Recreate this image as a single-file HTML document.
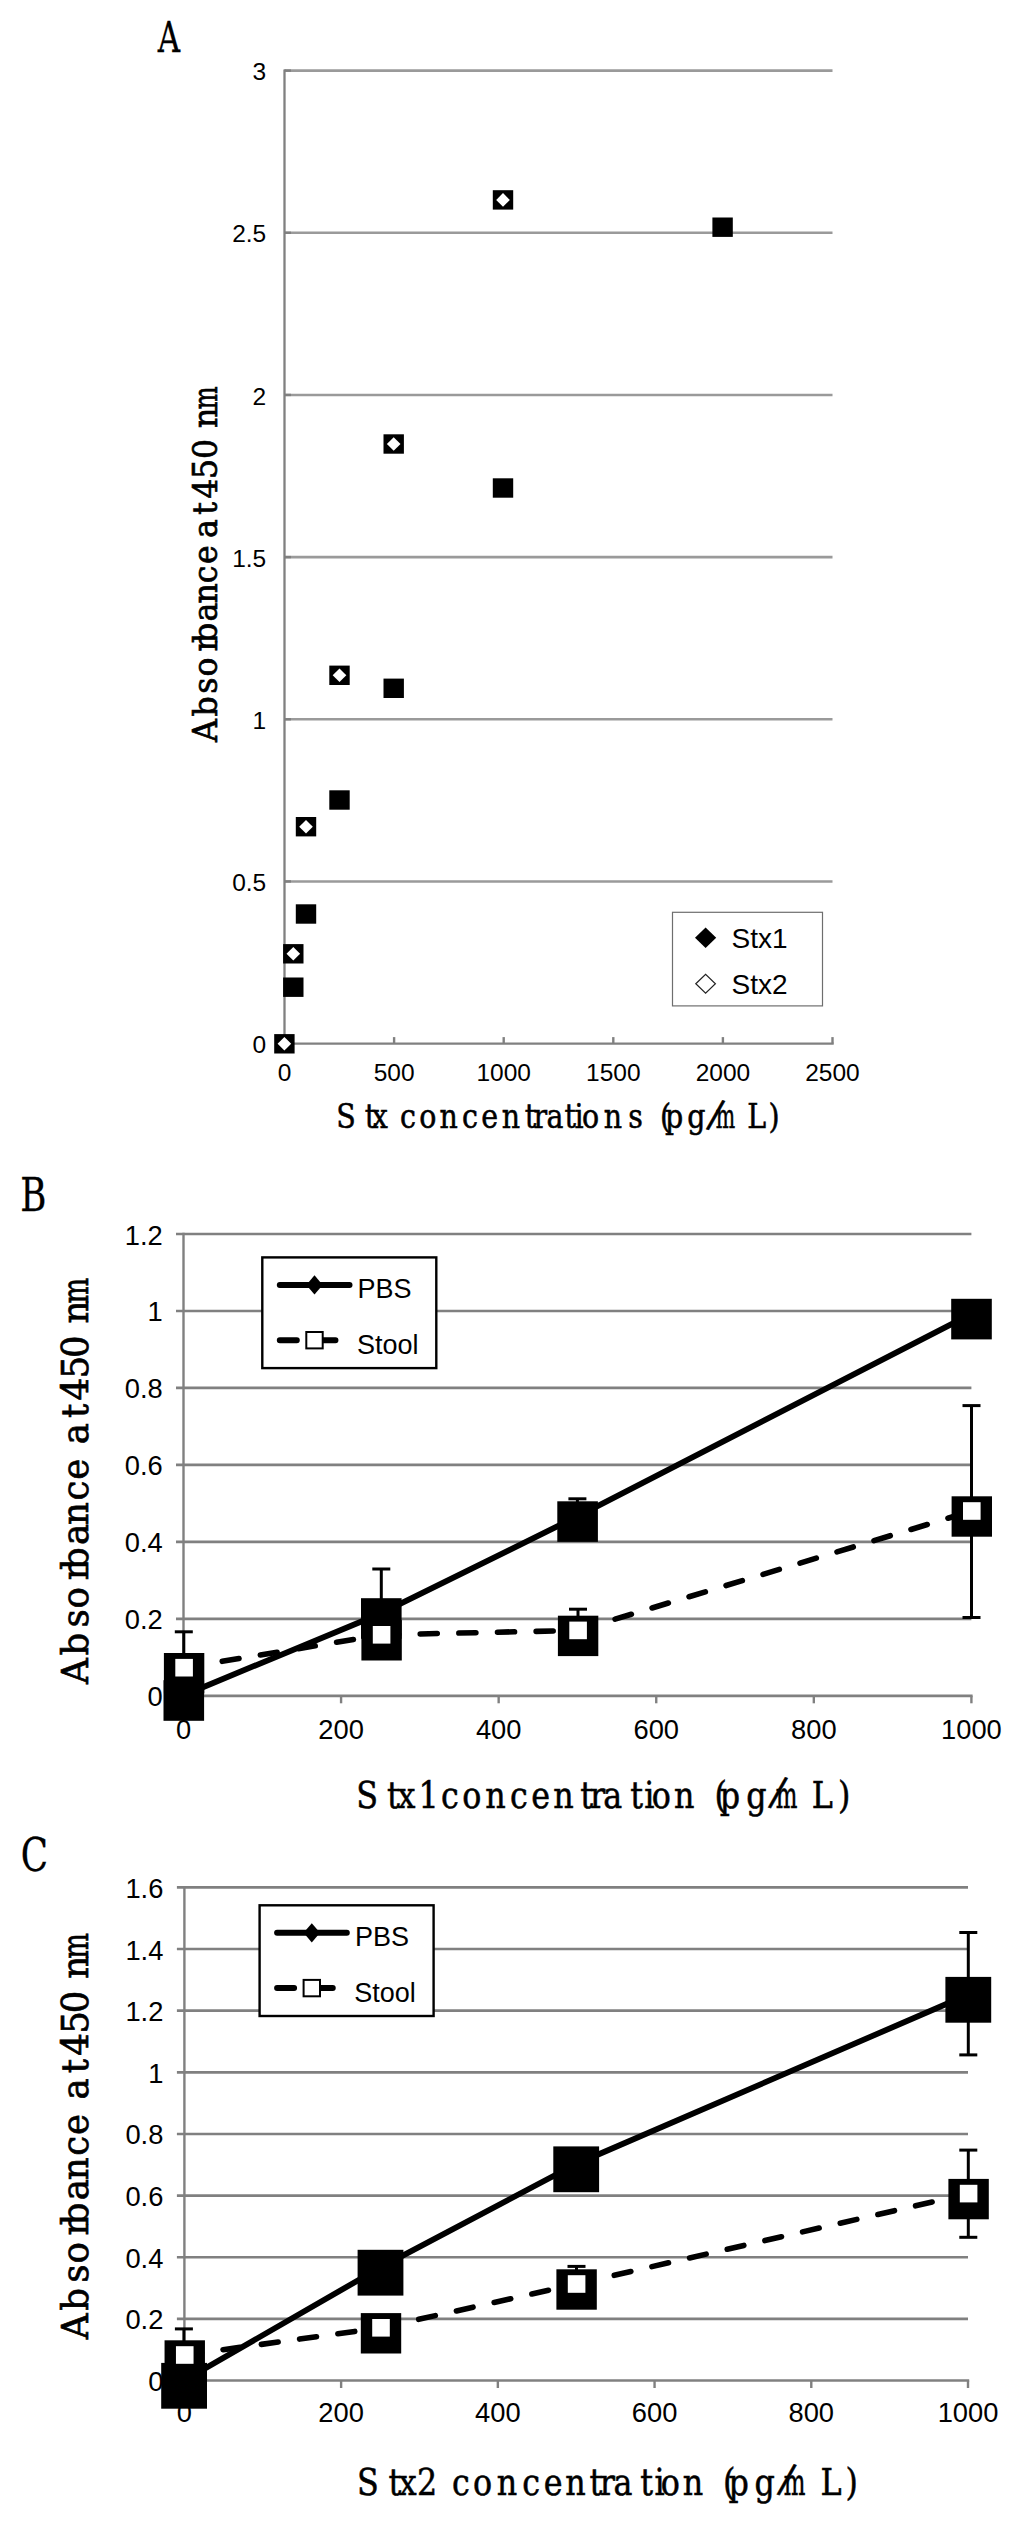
<!DOCTYPE html>
<html lang="en"><head><meta charset="utf-8"><title>Figure</title>
<style>
html,body{margin:0;padding:0;background:#fff;}
svg{display:block;}
text{fill:#000;}
</style></head><body>
<svg width="1024" height="2522" viewBox="0 0 1024 2522">
<rect x="0" y="0" width="1024" height="2522" fill="#fff"/>
<line x1="284.50" y1="881.43" x2="832.50" y2="881.43" stroke="#9a9a9a" stroke-width="2.6" />
<line x1="284.50" y1="719.27" x2="832.50" y2="719.27" stroke="#9a9a9a" stroke-width="2.6" />
<line x1="284.50" y1="557.10" x2="832.50" y2="557.10" stroke="#9a9a9a" stroke-width="2.6" />
<line x1="284.50" y1="394.93" x2="832.50" y2="394.93" stroke="#9a9a9a" stroke-width="2.6" />
<line x1="284.50" y1="232.77" x2="832.50" y2="232.77" stroke="#9a9a9a" stroke-width="2.6" />
<line x1="284.50" y1="70.60" x2="832.50" y2="70.60" stroke="#9a9a9a" stroke-width="2.6" />
<line x1="284.50" y1="69.40" x2="284.50" y2="1044.80" stroke="#808080" stroke-width="2.3" />
<line x1="284.50" y1="1043.60" x2="833.70" y2="1043.60" stroke="#808080" stroke-width="2.3" />
<line x1="284.50" y1="1043.60" x2="291.00" y2="1043.60" stroke="#808080" stroke-width="2.4" />
<line x1="284.50" y1="881.43" x2="291.00" y2="881.43" stroke="#808080" stroke-width="2.4" />
<line x1="284.50" y1="719.27" x2="291.00" y2="719.27" stroke="#808080" stroke-width="2.4" />
<line x1="284.50" y1="557.10" x2="291.00" y2="557.10" stroke="#808080" stroke-width="2.4" />
<line x1="284.50" y1="394.93" x2="291.00" y2="394.93" stroke="#808080" stroke-width="2.4" />
<line x1="284.50" y1="232.77" x2="291.00" y2="232.77" stroke="#808080" stroke-width="2.4" />
<line x1="284.50" y1="70.60" x2="291.00" y2="70.60" stroke="#808080" stroke-width="2.4" />
<line x1="394.10" y1="1043.60" x2="394.10" y2="1037.10" stroke="#808080" stroke-width="2.4" />
<line x1="503.70" y1="1043.60" x2="503.70" y2="1037.10" stroke="#808080" stroke-width="2.4" />
<line x1="613.30" y1="1043.60" x2="613.30" y2="1037.10" stroke="#808080" stroke-width="2.4" />
<line x1="722.90" y1="1043.60" x2="722.90" y2="1037.10" stroke="#808080" stroke-width="2.4" />
<line x1="832.50" y1="1043.60" x2="832.50" y2="1037.10" stroke="#808080" stroke-width="2.4" />
<text x="266.20" y="1053.20" font-size="24.5" text-anchor="end" font-family='"Liberation Sans", Arial, sans-serif' >0</text>
<text x="266.20" y="891.03" font-size="24.5" text-anchor="end" font-family='"Liberation Sans", Arial, sans-serif' >0.5</text>
<text x="266.20" y="728.87" font-size="24.5" text-anchor="end" font-family='"Liberation Sans", Arial, sans-serif' >1</text>
<text x="266.20" y="566.70" font-size="24.5" text-anchor="end" font-family='"Liberation Sans", Arial, sans-serif' >1.5</text>
<text x="266.20" y="404.53" font-size="24.5" text-anchor="end" font-family='"Liberation Sans", Arial, sans-serif' >2</text>
<text x="266.20" y="242.37" font-size="24.5" text-anchor="end" font-family='"Liberation Sans", Arial, sans-serif' >2.5</text>
<text x="266.20" y="80.20" font-size="24.5" text-anchor="end" font-family='"Liberation Sans", Arial, sans-serif' >3</text>
<text x="284.50" y="1081.20" font-size="24.5" text-anchor="middle" font-family='"Liberation Sans", Arial, sans-serif' >0</text>
<text x="394.10" y="1081.20" font-size="24.5" text-anchor="middle" font-family='"Liberation Sans", Arial, sans-serif' >500</text>
<text x="503.70" y="1081.20" font-size="24.5" text-anchor="middle" font-family='"Liberation Sans", Arial, sans-serif' >1000</text>
<text x="613.30" y="1081.20" font-size="24.5" text-anchor="middle" font-family='"Liberation Sans", Arial, sans-serif' >1500</text>
<text x="722.90" y="1081.20" font-size="24.5" text-anchor="middle" font-family='"Liberation Sans", Arial, sans-serif' >2000</text>
<text x="832.50" y="1081.20" font-size="24.5" text-anchor="middle" font-family='"Liberation Sans", Arial, sans-serif' >2500</text>
<rect x="283.10" y="977.50" width="20.40" height="19.40" fill="#000" />
<rect x="295.80" y="904.30" width="20.40" height="19.40" fill="#000" />
<rect x="329.30" y="790.30" width="20.40" height="19.40" fill="#000" />
<rect x="383.50" y="678.60" width="20.40" height="19.40" fill="#000" />
<rect x="492.80" y="478.30" width="20.40" height="19.40" fill="#000" />
<rect x="712.40" y="217.50" width="20.40" height="19.40" fill="#000" />
<rect x="274.20" y="1034.10" width="20.40" height="19.40" fill="#000" />
<path d="M277.60 1043.80 L284.40 1037.00 L291.20 1043.80 L284.40 1050.60Z" fill="#fff"/>
<rect x="283.10" y="944.10" width="20.40" height="19.40" fill="#000" />
<path d="M286.50 953.80 L293.30 947.00 L300.10 953.80 L293.30 960.60Z" fill="#fff"/>
<rect x="295.80" y="817.00" width="20.40" height="19.40" fill="#000" />
<path d="M299.20 826.70 L306.00 819.90 L312.80 826.70 L306.00 833.50Z" fill="#fff"/>
<rect x="329.30" y="665.60" width="20.40" height="19.40" fill="#000" />
<path d="M332.70 675.30 L339.50 668.50 L346.30 675.30 L339.50 682.10Z" fill="#fff"/>
<rect x="383.50" y="434.30" width="20.40" height="19.40" fill="#000" />
<path d="M386.90 444.00 L393.70 437.20 L400.50 444.00 L393.70 450.80Z" fill="#fff"/>
<rect x="492.80" y="190.20" width="20.40" height="19.40" fill="#000" />
<path d="M496.20 199.90 L503.00 193.10 L509.80 199.90 L503.00 206.70Z" fill="#fff"/>
<rect x="672.5" y="912.3" width="150" height="93.6" fill="#fff" stroke="#6e6e6e" stroke-width="1.2"/>
<path d="M695.00 937.80 L705.60 927.60 L716.20 937.80 L705.60 948.00Z" fill="#000" />
<path d="M695.80 983.80 L705.60 974.40 L715.40 983.80 L705.60 993.20Z" fill="#fff" stroke="#222" stroke-width="1.2"/>
<text x="731.50" y="947.80" font-size="28" text-anchor="start" font-family='"Liberation Sans", Arial, sans-serif' >Stx1</text>
<text x="731.50" y="994.20" font-size="28" text-anchor="start" font-family='"Liberation Sans", Arial, sans-serif' >Stx2</text>
<text transform="scale(0.72,1)"  x="234.72" y="52.30" font-size="43" text-anchor="middle" font-family='"DejaVu Serif", "Liberation Serif", serif' stroke="#000" stroke-width="0.3">A</text>
<text transform="scale(0.855,1)" rotate="0 0 0 0 0 0 0 0 0 0 0 0 0 0 0 0 0 0 0 0 0 0 16 0 0 0" x="404.68 433.33 444.09 444.09 477.19 500.35 524.80 549.71 572.63 597.66 620.35 631.93 649.12 667.02 677.19 690.64 716.73 743.27 743.27 778.36 788.54 814.39 833.68 848.65 885.03 905.26" y="1127.60" font-size="33.3" text-anchor="middle" font-family='"DejaVu Serif", "Liberation Serif", serif' stroke="#000" stroke-width="0.55">Stx concentrations (pg<tspan font-size="40.0" dy="-2.2">/</tspan><tspan dy="2.2" textLength="22.73" lengthAdjust="spacingAndGlyphs">m</tspan>L)</text>
<text transform="rotate(-90) scale(0.95,1)"  x="-769.16 -743.68 -721.68 -702.21 -677.89 -666.32 -644.21 -624.42 -604.63 -583.79 -583.79 -556.42 -535.26 -535.26 -514.42 -493.58 -472.63 -472.63 -439.89 -418.74" y="217.20" font-size="33.3" text-anchor="middle" font-family='"DejaVu Serif", "Liberation Serif", serif' stroke="#000" stroke-width="0.7">Absorbance at 450 n<tspan textLength="23.99" lengthAdjust="spacingAndGlyphs">m</tspan></text>
<line x1="176.00" y1="1618.83" x2="971.40" y2="1618.83" stroke="#808080" stroke-width="2.65" />
<line x1="176.00" y1="1541.87" x2="971.40" y2="1541.87" stroke="#808080" stroke-width="2.65" />
<line x1="176.00" y1="1464.90" x2="971.40" y2="1464.90" stroke="#808080" stroke-width="2.65" />
<line x1="176.00" y1="1387.93" x2="971.40" y2="1387.93" stroke="#808080" stroke-width="2.65" />
<line x1="176.00" y1="1310.97" x2="971.40" y2="1310.97" stroke="#808080" stroke-width="2.65" />
<line x1="176.00" y1="1234.00" x2="971.40" y2="1234.00" stroke="#808080" stroke-width="2.65" />
<line x1="176.00" y1="1695.80" x2="972.60" y2="1695.80" stroke="#808080" stroke-width="2.65" />
<line x1="183.50" y1="1232.80" x2="183.50" y2="1697.00" stroke="#808080" stroke-width="2.4" />
<line x1="341.08" y1="1695.80" x2="341.08" y2="1703.30" stroke="#808080" stroke-width="2.4" />
<line x1="498.66" y1="1695.80" x2="498.66" y2="1703.30" stroke="#808080" stroke-width="2.4" />
<line x1="656.24" y1="1695.80" x2="656.24" y2="1703.30" stroke="#808080" stroke-width="2.4" />
<line x1="813.82" y1="1695.80" x2="813.82" y2="1703.30" stroke="#808080" stroke-width="2.4" />
<line x1="971.40" y1="1695.80" x2="971.40" y2="1703.30" stroke="#808080" stroke-width="2.4" />
<text transform="translate(162.70,1706.30) scale(0.965,1)" font-size="28.3" text-anchor="end" font-family='"Liberation Sans", Arial, sans-serif'>0</text>
<text transform="translate(162.70,1629.33) scale(0.965,1)" font-size="28.3" text-anchor="end" font-family='"Liberation Sans", Arial, sans-serif'>0.2</text>
<text transform="translate(162.70,1552.37) scale(0.965,1)" font-size="28.3" text-anchor="end" font-family='"Liberation Sans", Arial, sans-serif'>0.4</text>
<text transform="translate(162.70,1475.40) scale(0.965,1)" font-size="28.3" text-anchor="end" font-family='"Liberation Sans", Arial, sans-serif'>0.6</text>
<text transform="translate(162.70,1398.43) scale(0.965,1)" font-size="28.3" text-anchor="end" font-family='"Liberation Sans", Arial, sans-serif'>0.8</text>
<text transform="translate(162.70,1321.47) scale(0.965,1)" font-size="28.3" text-anchor="end" font-family='"Liberation Sans", Arial, sans-serif'>1</text>
<text transform="translate(162.70,1244.50) scale(0.965,1)" font-size="28.3" text-anchor="end" font-family='"Liberation Sans", Arial, sans-serif'>1.2</text>
<text transform="translate(183.50,1738.50) scale(0.965,1)" font-size="28.3" text-anchor="middle" font-family='"Liberation Sans", Arial, sans-serif'>0</text>
<text transform="translate(341.08,1738.50) scale(0.965,1)" font-size="28.3" text-anchor="middle" font-family='"Liberation Sans", Arial, sans-serif'>200</text>
<text transform="translate(498.66,1738.50) scale(0.965,1)" font-size="28.3" text-anchor="middle" font-family='"Liberation Sans", Arial, sans-serif'>400</text>
<text transform="translate(656.24,1738.50) scale(0.965,1)" font-size="28.3" text-anchor="middle" font-family='"Liberation Sans", Arial, sans-serif'>600</text>
<text transform="translate(813.82,1738.50) scale(0.965,1)" font-size="28.3" text-anchor="middle" font-family='"Liberation Sans", Arial, sans-serif'>800</text>
<text transform="translate(971.40,1738.50) scale(0.965,1)" font-size="28.3" text-anchor="middle" font-family='"Liberation Sans", Arial, sans-serif'>1000</text>
<rect x="262.3" y="1257.4" width="174" height="110.7" fill="#fff" stroke="#000" stroke-width="2.4"/>
<line x1="279.80" y1="1284.90" x2="349.50" y2="1284.90" stroke="#000" stroke-width="6" stroke-linecap="round"/>
<path d="M306.30 1284.90 L314.50 1275.30 L322.70 1284.90 L314.50 1294.50Z" fill="#000" />
<line x1="279.80" y1="1340.20" x2="349.50" y2="1340.20" stroke="#000" stroke-width="6" stroke-linecap="round" stroke-dasharray="17 21.65"/>
<rect x="306.30" y="1332.00" width="16.4" height="16.4" fill="#fff" stroke="#000" stroke-width="2"/>
<text x="357.60" y="1298.20" font-size="27" text-anchor="start" font-family='"Liberation Sans", Arial, sans-serif' >PBS</text>
<text x="356.90" y="1353.70" font-size="27" text-anchor="start" font-family='"Liberation Sans", Arial, sans-serif' >Stool</text>
<polyline points="183.80,1695.20 381.30,1613.20 577.60,1516.30 971.50,1313.80" fill="none" stroke="#000" stroke-width="5.8" stroke-linejoin="round"/>
<line x1="184.10" y1="1667.70" x2="381.60" y2="1634.80" stroke="#000" stroke-width="5.6" stroke-linecap="round" stroke-dasharray="17 21.65"/>
<line x1="381.60" y1="1634.80" x2="578.10" y2="1630.40" stroke="#000" stroke-width="5.6" stroke-linecap="round" stroke-dasharray="17 21.65"/>
<line x1="578.10" y1="1630.40" x2="971.80" y2="1511.00" stroke="#000" stroke-width="5.6" stroke-linecap="round" stroke-dasharray="17 21.65"/>
<line x1="183.80" y1="1631.80" x2="183.80" y2="1660.00" stroke="#000" stroke-width="3" />
<line x1="174.80" y1="1631.80" x2="192.80" y2="1631.80" stroke="#000" stroke-width="3" />
<line x1="381.30" y1="1569.00" x2="381.30" y2="1600.00" stroke="#000" stroke-width="3" />
<line x1="372.30" y1="1569.00" x2="390.30" y2="1569.00" stroke="#000" stroke-width="3" />
<line x1="577.40" y1="1498.80" x2="577.40" y2="1503.00" stroke="#000" stroke-width="3" />
<line x1="568.40" y1="1498.80" x2="586.40" y2="1498.80" stroke="#000" stroke-width="3" />
<line x1="578.00" y1="1609.20" x2="578.00" y2="1618.00" stroke="#000" stroke-width="3" />
<line x1="569.00" y1="1609.20" x2="587.00" y2="1609.20" stroke="#000" stroke-width="3" />
<line x1="971.50" y1="1405.60" x2="971.50" y2="1617.50" stroke="#000" stroke-width="3" />
<line x1="962.50" y1="1405.60" x2="980.50" y2="1405.60" stroke="#000" stroke-width="3" />
<rect x="163.50" y="1680.20" width="40.60" height="40.60" fill="#000" />
<rect x="361.00" y="1598.20" width="40.60" height="40.60" fill="#000" />
<rect x="557.30" y="1501.30" width="40.60" height="40.60" fill="#000" />
<rect x="951.20" y="1298.80" width="40.60" height="40.60" fill="#000" />
<rect x="163.90" y="1653.00" width="40.40" height="40.40" fill="#000" />
<rect x="361.40" y="1620.10" width="40.40" height="40.40" fill="#000" />
<rect x="557.90" y="1615.70" width="40.40" height="40.40" fill="#000" />
<rect x="951.60" y="1496.30" width="40.40" height="40.40" fill="#000" />
<rect x="175.30" y="1658.90" width="17.60" height="17.60" fill="#fff" />
<rect x="372.80" y="1626.00" width="17.60" height="17.60" fill="#fff" />
<rect x="569.30" y="1621.60" width="17.60" height="17.60" fill="#fff" />
<rect x="963.00" y="1502.20" width="17.60" height="17.60" fill="#fff" />
<text transform="scale(0.855,1)" rotate="0 0 0 0 0 0 0 0 0 0 0 0 0 0 0 0 0 0 0 0 0 16 0 0 0" x="429.47 460.00 475.44 501.40 526.08 551.81 579.53 607.02 632.28 659.06 686.20 699.06 716.73 744.56 759.42 773.45 800.35 800.35 842.81 853.80 884.80 906.43 920.00 961.75 987.49" y="1808.00" font-size="37.2" text-anchor="middle" font-family='"DejaVu Serif", "Liberation Serif", serif' stroke="#000" stroke-width="0.55">Stx1concentration (pg<tspan font-size="41.7" dy="-4.5">/</tspan><tspan dy="4.5" textLength="25.39" lengthAdjust="spacingAndGlyphs">m</tspan>L)</text>
<text transform="rotate(-90) scale(0.95,1)"  x="-1759.05 -1730.63 -1703.58 -1681.79 -1654.42 -1640.74 -1615.16 -1593.26 -1569.05 -1546.63 -1546.63 -1509.16 -1485.16 -1485.16 -1462.42 -1439.16 -1417.47 -1417.47 -1381.05 -1358.53" y="88.20" font-size="37.5" text-anchor="middle" font-family='"DejaVu Serif", "Liberation Serif", serif' stroke="#000" stroke-width="0.7">Absorbance at 450 n<tspan textLength="27.02" lengthAdjust="spacingAndGlyphs">m</tspan></text>
<text transform="scale(0.775,1)"  x="43.10" y="1211.50" font-size="46" text-anchor="middle" font-family='"DejaVu Serif", "Liberation Serif", serif' stroke="#000" stroke-width="0.3">B</text>
<line x1="962.50" y1="1617.50" x2="980.50" y2="1617.50" stroke="#000" stroke-width="3" />
<line x1="176.90" y1="2318.86" x2="968.00" y2="2318.86" stroke="#808080" stroke-width="2.65" />
<line x1="176.90" y1="2257.22" x2="968.00" y2="2257.22" stroke="#808080" stroke-width="2.65" />
<line x1="176.90" y1="2195.59" x2="968.00" y2="2195.59" stroke="#808080" stroke-width="2.65" />
<line x1="176.90" y1="2133.95" x2="968.00" y2="2133.95" stroke="#808080" stroke-width="2.65" />
<line x1="176.90" y1="2072.31" x2="968.00" y2="2072.31" stroke="#808080" stroke-width="2.65" />
<line x1="176.90" y1="2010.68" x2="968.00" y2="2010.68" stroke="#808080" stroke-width="2.65" />
<line x1="176.90" y1="1949.04" x2="968.00" y2="1949.04" stroke="#808080" stroke-width="2.65" />
<line x1="176.90" y1="1887.40" x2="968.00" y2="1887.40" stroke="#808080" stroke-width="2.65" />
<line x1="176.90" y1="2380.50" x2="969.20" y2="2380.50" stroke="#808080" stroke-width="2.65" />
<line x1="184.40" y1="1886.20" x2="184.40" y2="2381.70" stroke="#808080" stroke-width="2.4" />
<line x1="341.12" y1="2380.50" x2="341.12" y2="2388.00" stroke="#808080" stroke-width="2.4" />
<line x1="497.84" y1="2380.50" x2="497.84" y2="2388.00" stroke="#808080" stroke-width="2.4" />
<line x1="654.56" y1="2380.50" x2="654.56" y2="2388.00" stroke="#808080" stroke-width="2.4" />
<line x1="811.28" y1="2380.50" x2="811.28" y2="2388.00" stroke="#808080" stroke-width="2.4" />
<line x1="968.00" y1="2380.50" x2="968.00" y2="2388.00" stroke="#808080" stroke-width="2.4" />
<text transform="translate(163.40,2391.00) scale(0.965,1)" font-size="28.3" text-anchor="end" font-family='"Liberation Sans", Arial, sans-serif'>0</text>
<text transform="translate(163.40,2329.36) scale(0.965,1)" font-size="28.3" text-anchor="end" font-family='"Liberation Sans", Arial, sans-serif'>0.2</text>
<text transform="translate(163.40,2267.72) scale(0.965,1)" font-size="28.3" text-anchor="end" font-family='"Liberation Sans", Arial, sans-serif'>0.4</text>
<text transform="translate(163.40,2206.09) scale(0.965,1)" font-size="28.3" text-anchor="end" font-family='"Liberation Sans", Arial, sans-serif'>0.6</text>
<text transform="translate(163.40,2144.45) scale(0.965,1)" font-size="28.3" text-anchor="end" font-family='"Liberation Sans", Arial, sans-serif'>0.8</text>
<text transform="translate(163.40,2082.81) scale(0.965,1)" font-size="28.3" text-anchor="end" font-family='"Liberation Sans", Arial, sans-serif'>1</text>
<text transform="translate(163.40,2021.18) scale(0.965,1)" font-size="28.3" text-anchor="end" font-family='"Liberation Sans", Arial, sans-serif'>1.2</text>
<text transform="translate(163.40,1959.54) scale(0.965,1)" font-size="28.3" text-anchor="end" font-family='"Liberation Sans", Arial, sans-serif'>1.4</text>
<text transform="translate(163.40,1897.90) scale(0.965,1)" font-size="28.3" text-anchor="end" font-family='"Liberation Sans", Arial, sans-serif'>1.6</text>
<text transform="translate(184.40,2421.60) scale(0.965,1)" font-size="28.3" text-anchor="middle" font-family='"Liberation Sans", Arial, sans-serif'>0</text>
<text transform="translate(341.12,2421.60) scale(0.965,1)" font-size="28.3" text-anchor="middle" font-family='"Liberation Sans", Arial, sans-serif'>200</text>
<text transform="translate(497.84,2421.60) scale(0.965,1)" font-size="28.3" text-anchor="middle" font-family='"Liberation Sans", Arial, sans-serif'>400</text>
<text transform="translate(654.56,2421.60) scale(0.965,1)" font-size="28.3" text-anchor="middle" font-family='"Liberation Sans", Arial, sans-serif'>600</text>
<text transform="translate(811.28,2421.60) scale(0.965,1)" font-size="28.3" text-anchor="middle" font-family='"Liberation Sans", Arial, sans-serif'>800</text>
<text transform="translate(968.00,2421.60) scale(0.965,1)" font-size="28.3" text-anchor="middle" font-family='"Liberation Sans", Arial, sans-serif'>1000</text>
<rect x="259.6" y="1905.3" width="174" height="110.7" fill="#fff" stroke="#000" stroke-width="2.4"/>
<line x1="277.10" y1="1932.80" x2="346.80" y2="1932.80" stroke="#000" stroke-width="6" stroke-linecap="round"/>
<path d="M303.60 1932.80 L311.80 1923.20 L320.00 1932.80 L311.80 1942.40Z" fill="#000" />
<line x1="277.10" y1="1988.10" x2="346.80" y2="1988.10" stroke="#000" stroke-width="6" stroke-linecap="round" stroke-dasharray="17 21.65"/>
<rect x="303.60" y="1979.90" width="16.4" height="16.4" fill="#fff" stroke="#000" stroke-width="2"/>
<text x="354.90" y="1946.10" font-size="27" text-anchor="start" font-family='"Liberation Sans", Arial, sans-serif' >PBS</text>
<text x="354.20" y="2001.60" font-size="27" text-anchor="start" font-family='"Liberation Sans", Arial, sans-serif' >Stool</text>
<polyline points="184.10,2380.50 380.50,2267.40 576.20,2164.00 968.30,1994.50" fill="none" stroke="#000" stroke-width="5.8" stroke-linejoin="round"/>
<line x1="184.75" y1="2355.00" x2="381.00" y2="2327.80" stroke="#000" stroke-width="5.6" stroke-linecap="round" stroke-dasharray="17 21.65"/>
<line x1="381.00" y1="2327.80" x2="576.60" y2="2284.00" stroke="#000" stroke-width="5.6" stroke-linecap="round" stroke-dasharray="17 21.65"/>
<line x1="576.60" y1="2284.00" x2="968.60" y2="2193.60" stroke="#000" stroke-width="5.6" stroke-linecap="round" stroke-dasharray="17 21.65"/>
<line x1="183.90" y1="2328.90" x2="183.90" y2="2345.00" stroke="#000" stroke-width="3" />
<line x1="174.90" y1="2328.90" x2="192.90" y2="2328.90" stroke="#000" stroke-width="3" />
<line x1="576.50" y1="2266.40" x2="576.50" y2="2275.00" stroke="#000" stroke-width="3" />
<line x1="567.50" y1="2266.40" x2="585.50" y2="2266.40" stroke="#000" stroke-width="3" />
<line x1="968.30" y1="1932.50" x2="968.30" y2="2054.90" stroke="#000" stroke-width="3" />
<line x1="959.30" y1="1932.50" x2="977.30" y2="1932.50" stroke="#000" stroke-width="3" />
<line x1="968.30" y1="2150.10" x2="968.30" y2="2237.30" stroke="#000" stroke-width="3" />
<line x1="959.30" y1="2150.10" x2="977.30" y2="2150.10" stroke="#000" stroke-width="3" />
<rect x="161.20" y="2362.90" width="45.80" height="45.80" fill="#000" />
<rect x="357.60" y="2249.80" width="45.80" height="45.80" fill="#000" />
<rect x="553.30" y="2146.40" width="45.80" height="45.80" fill="#000" />
<rect x="945.40" y="1976.90" width="45.80" height="45.80" fill="#000" />
<rect x="164.55" y="2340.30" width="40.40" height="40.40" fill="#000" />
<rect x="360.80" y="2313.10" width="40.40" height="40.40" fill="#000" />
<rect x="556.40" y="2269.30" width="40.40" height="40.40" fill="#000" />
<rect x="948.40" y="2178.90" width="40.40" height="40.40" fill="#000" />
<rect x="175.95" y="2346.20" width="17.60" height="17.60" fill="#fff" />
<rect x="372.20" y="2319.00" width="17.60" height="17.60" fill="#fff" />
<rect x="567.80" y="2275.20" width="17.60" height="17.60" fill="#fff" />
<rect x="959.80" y="2184.80" width="17.60" height="17.60" fill="#fff" />
<text transform="scale(0.855,1)" rotate="0 0 0 0 0 0 0 0 0 0 0 0 0 0 0 0 0 0 0 0 0 0 16 0 0 0" x="430.18 461.99 476.84 499.65 499.65 539.18 564.44 592.98 621.29 646.90 673.10 696.84 710.29 728.77 756.37 771.46 784.09 810.41 810.41 852.87 864.09 894.39 916.73 929.47 972.16 996.02" y="2495.00" font-size="37.2" text-anchor="middle" font-family='"DejaVu Serif", "Liberation Serif", serif' stroke="#000" stroke-width="0.55">Stx2 concentration (pg<tspan font-size="41.7" dy="-4.5">/</tspan><tspan dy="4.5" textLength="25.39" lengthAdjust="spacingAndGlyphs">m</tspan>L)</text>
<text transform="rotate(-90) scale(0.95,1)"  x="-2448.74 -2420.32 -2393.26 -2371.47 -2344.11 -2330.42 -2304.84 -2282.95 -2258.74 -2236.32 -2236.32 -2198.84 -2174.84 -2174.84 -2152.11 -2128.84 -2107.16 -2107.16 -2070.74 -2048.21" y="88.20" font-size="37.5" text-anchor="middle" font-family='"DejaVu Serif", "Liberation Serif", serif' stroke="#000" stroke-width="0.7">Absorbance at 450 n<tspan textLength="27.02" lengthAdjust="spacingAndGlyphs">m</tspan></text>
<text transform="scale(0.775,1)"  x="44.39" y="1870.80" font-size="46" text-anchor="middle" font-family='"DejaVu Serif", "Liberation Serif", serif' stroke="#000" stroke-width="0.3">C</text>
<line x1="959.30" y1="2054.90" x2="977.30" y2="2054.90" stroke="#000" stroke-width="3" />
<line x1="959.30" y1="2237.30" x2="977.30" y2="2237.30" stroke="#000" stroke-width="3" />
</svg>
</body></html>
